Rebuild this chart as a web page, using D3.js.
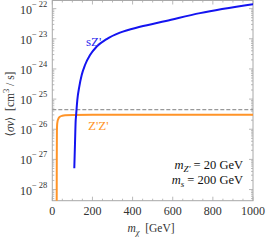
<!DOCTYPE html>
<html>
<head>
<meta charset="utf-8">
<script src="https://cdn.jsdelivr.net/npm/d3@7"></script>
<style>
  body { margin: 0; background: #fff; }
</style>
</head>
<body>
<div id="canvas"></div>
<script>
// data (m_chi in GeV, <sigma v> in cm^3/s)
const massSZ = [109.6, 113, 116.6, 118, 124.6, 134.5, 146.5, 163, 188, 221, 271, 337, 437, 566, 736, 1000];
const sigmaSZ = [5.1e-28, 3.2e-27, 2.0e-26, 2.6e-26, 9.3e-26, 2.6e-25, 6.3e-25, 1.35e-24, 2.9e-24, 5.5e-24, 9.8e-24, 1.6e-23, 2.5e-23, 3.9e-23, 7.1e-23, 1.4e-22];
const massZZ = [21.8, 22.3, 23, 24, 26, 30, 38, 50, 65, 100, 200, 1000];
const sigmaZZ = [1e-29, 1e-27, 8e-27, 1.4e-26, 1.8e-26, 2.2e-26, 2.6e-26, 2.8e-26, 2.9e-26, 2.97e-26, 3.0e-26, 3.0e-26];
const relic = 4.5e-26;
const xTicks = [0, 200, 400, 600, 800, 1000];
const yExponents = [-28, -27, -26, -25, -24, -23, -22];

const margin = { Top: 0.5, Right: 13, Bottom: 40.3, Left: 52.3 };
const W = 266, H = 241;
const width = W - margin.Left - margin.Right;
const height = H - margin.Top - margin.Bottom;
const serif = '"Liberation Serif", "Times New Roman", "DejaVu Serif", serif';

const svg = d3.select('#canvas').append('svg')
    .attr('width', W)
    .attr('height', H)
    .attr('font-family', serif)
    .style('font-family', serif);

const g = svg.append('g')
    .attr('transform', `translate(${margin.Left}, ${margin.Top})`);

const x = d3.scaleLinear().domain([0, 1000]).range([0, width]);
const y = d3.scaleLog().domain([Math.pow(10, -28.37), Math.pow(10, -21.73)]).range([height, 0]);

svg.append('defs').append('clipPath').attr('id', 'clip')
    .append('rect').attr('width', width).attr('height', height);

const frameColor = '#a8a8a8';

// minor / major ticks on all four sides
const xMinor = d3.range(0, 1001, 50);
xMinor.forEach(v => {
    const len = v % 200 === 0 ? 4 : 2;
    g.append('line').attr('x1', x(v)).attr('x2', x(v)).attr('y1', height).attr('y2', height - len)
        .attr('stroke', frameColor).attr('stroke-width', 0.8);
    g.append('line').attr('x1', x(v)).attr('x2', x(v)).attr('y1', 0).attr('y2', len)
        .attr('stroke', frameColor).attr('stroke-width', 0.8);
});
const yMinor = [];
for (let e = -29; e <= -22; e++) {
    for (let k = 1; k <= 9; k++) {
        const v = k * Math.pow(10, e);
        if (v >= y.domain()[0] && v <= y.domain()[1]) yMinor.push({ v, major: k === 1 });
    }
}
yMinor.forEach(t => {
    const len = t.major ? 4 : 2;
    g.append('line').attr('x1', 0).attr('x2', len).attr('y1', y(t.v)).attr('y2', y(t.v))
        .attr('stroke', frameColor).attr('stroke-width', 0.8);
    g.append('line').attr('x1', width).attr('x2', width - len).attr('y1', y(t.v)).attr('y2', y(t.v))
        .attr('stroke', frameColor).attr('stroke-width', 0.8);
});

g.append('rect')
    .attr('width', width).attr('height', height)
    .attr('fill', 'none').attr('stroke', frameColor).attr('stroke-width', 1);

// tick labels
g.selectAll('.xl').data(xTicks).enter().append('text')
    .attr('x', d => x(d)).attr('y', height + 14.5)
    .attr('text-anchor', 'middle').attr('font-size', 12).attr('fill', '#333')
    .text(d => d);

const yl = g.selectAll('.yl').data(yExponents).enter().append('text')
    .attr('x', -5).attr('y', d => y(Math.pow(10, d)) + 5)
    .attr('text-anchor', 'end').attr('fill', '#333');
yl.append('tspan').attr('font-size', 12).text('10');
yl.append('tspan').attr('font-size', 8.5).attr('dy', -7).text(d => '\u2212 ' + Math.abs(d));

// relic line
g.append('line')
    .attr('x1', 0).attr('x2', width).attr('y1', y(relic)).attr('y2', y(relic))
    .attr('stroke', '#999').attr('stroke-width', 1.2).attr('stroke-dasharray', '4,2');

const line = d3.line().x(d => x(d[0])).y(d => y(d[1])).curve(d3.curveMonotoneX);

g.append('path')
    .datum(massZZ.map((m, i) => [m, sigmaZZ[i]]))
    .attr('clip-path', 'url(#clip)')
    .attr('d', line).attr('fill', 'none')
    .attr('stroke', '#ff9428').attr('stroke-width', 2);

g.append('path')
    .datum(massSZ.map((m, i) => [m, sigmaSZ[i]]))
    .attr('clip-path', 'url(#clip)')
    .attr('d', line).attr('fill', 'none')
    .attr('stroke', '#1414f0').attr('stroke-width', 2);

// curve labels
svg.append('text').attr('x', 86).attr('y', 46).attr('font-size', 13)
    .attr('fill', '#2a2aee').text("sZ'");
svg.append('text').attr('x', 88).attr('y', 130).attr('font-size', 13)
    .attr('fill', '#ff9428').text("Z'Z'");

// parameter box
const a1 = svg.append('text').attr('x', 243).attr('y', 169).attr('text-anchor', 'end')
    .attr('font-size', 12.5).attr('fill', '#111').attr('xml:space', 'preserve');
a1.append('tspan').attr('font-style', 'italic').text('m');
a1.append('tspan').attr('font-style', 'italic').attr('font-size', 9).attr('dy', 2.5).text('Z\u2032');
a1.append('tspan').attr('dy', -2.5).text('\u00a0=\u00a020\u00a0GeV');
const a2 = svg.append('text').attr('x', 243).attr('y', 184).attr('text-anchor', 'end')
    .attr('font-size', 12.5).attr('fill', '#111');
a2.append('tspan').attr('font-style', 'italic').text('m');
a2.append('tspan').attr('font-style', 'italic').attr('font-size', 9).attr('dy', 2.5).text('s');
a2.append('tspan').attr('dy', -2.5).text('\u00a0=\u00a0200\u00a0GeV');

// axis titles
const xt = svg.append('text').attr('x', 151).attr('y', 232).attr('text-anchor', 'middle')
    .attr('font-size', 11.5).attr('fill', '#333');
xt.append('tspan').attr('font-style', 'italic').text('m');
xt.append('tspan').attr('font-style', 'italic').attr('font-size', 8.5).attr('dy', 2.5).text('\u03c7');
xt.append('tspan').attr('dy', -2.5).text('\u00a0\u00a0[GeV]');

const yt = svg.append('text')
    .attr('transform', 'translate(14, 104) rotate(-90)')
    .attr('text-anchor', 'middle').attr('font-size', 11.5).attr('fill', '#333');
yt.append('tspan').text('\u27e8');
yt.append('tspan').attr('font-style', 'italic').text('\u03c3v');
yt.append('tspan').text('\u27e9\u00a0\u00a0[cm');
yt.append('tspan').attr('font-size', 8.5).attr('dy', -5).text('3');
yt.append('tspan').attr('dy', 5).text('\u00a0/\u00a0s]');
</script>
</body>
</html>
